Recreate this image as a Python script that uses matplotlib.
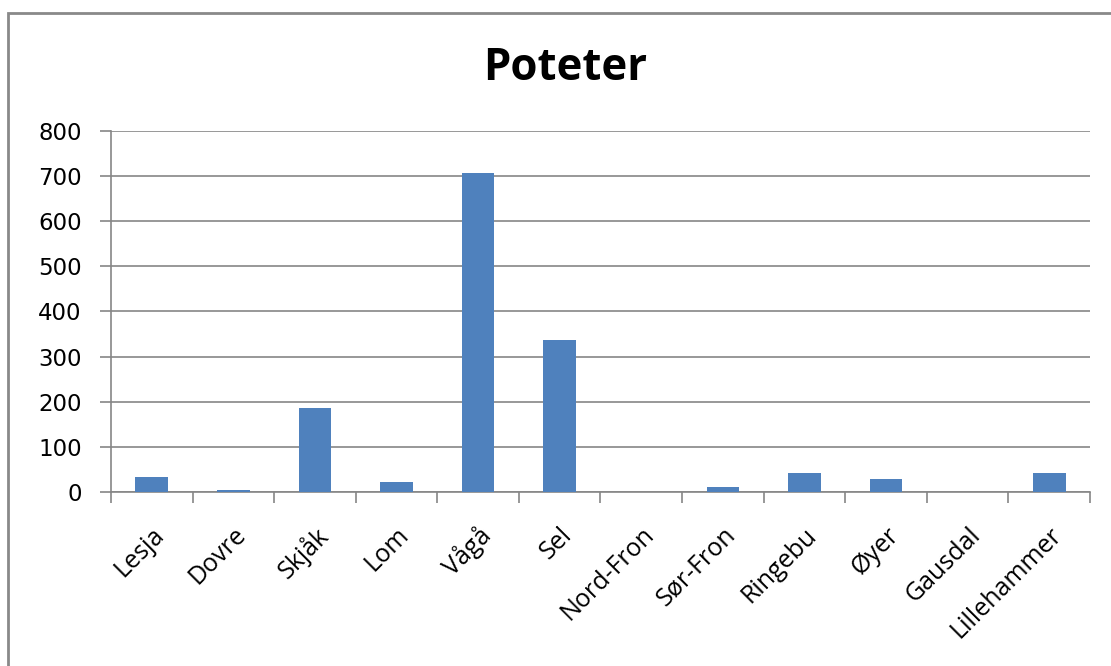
import numpy as np
import matplotlib.pyplot as plt
from matplotlib.patches import Rectangle

kommuner = ['Lesja', 'Dovre', 'Skjåk', 'Lom', 'Vågå', 'Sel', 'Nord-Fron',
            'Sør-Fron', 'Ringebu', 'Øyer', 'Gausdal', 'Lillehammer']
poteter = [33, 4, 186, 22, 708, 336, 0, 10, 43, 28, 0, 43]
yticks = [0, 100, 200, 300, 400, 500, 600, 700, 800]

grid_col = '#868686'

fig = plt.figure(figsize=(11.11, 6.66), dpi=100)
ax = fig.add_axes([0.0999, 0.2613, 0.8812, 0.542])

x = np.arange(len(kommuner))
ax.bar(x, poteter, width=0.4, color='#4f81bd', zorder=3)

ax.set_xlim(-0.5, len(kommuner) - 0.5)
ax.set_ylim(0, 800)
ax.set_yticks(yticks)
ax.set_yticklabels([str(v) for v in yticks], fontsize=16.5, family='DejaVu Sans')
ax.yaxis.grid(True, color=grid_col, linewidth=1.2, zorder=0)

# category ticks sit between the bars, labels centred on the bars
ax.set_xticks(np.arange(len(kommuner) + 1) - 0.5)
ax.set_xticklabels([])
ax.set_xticks(x, minor=True)
ax.set_xticklabels(kommuner, minor=True, rotation=45, ha='right',
                   rotation_mode='anchor', fontsize=18, family='Open Sans')
ax.tick_params(axis='x', which='minor', length=0, pad=22)
ax.tick_params(axis='x', which='major', length=8, color=grid_col, width=1.2)
ax.tick_params(axis='y', length=8, color=grid_col, width=1.2, pad=13)

for side in ['top', 'right']:
    ax.spines[side].set_visible(False)
for side in ['left', 'bottom']:
    ax.spines[side].set_color(grid_col)
    ax.spines[side].set_linewidth(1.2)

fig.text(0.509, 0.897, 'Poteter', ha='center', va='center',
         fontsize=31.5, fontweight='bold', family='Open Sans')

# chart-area frame (cut off at the right and bottom edges)
fig.patches.append(Rectangle((0.0072, -0.05), 1.1, 1.03,
                             transform=fig.transFigure, fill=False,
                             edgecolor='#898989', linewidth=2))

fig.savefig('out.png', dpi=100)
